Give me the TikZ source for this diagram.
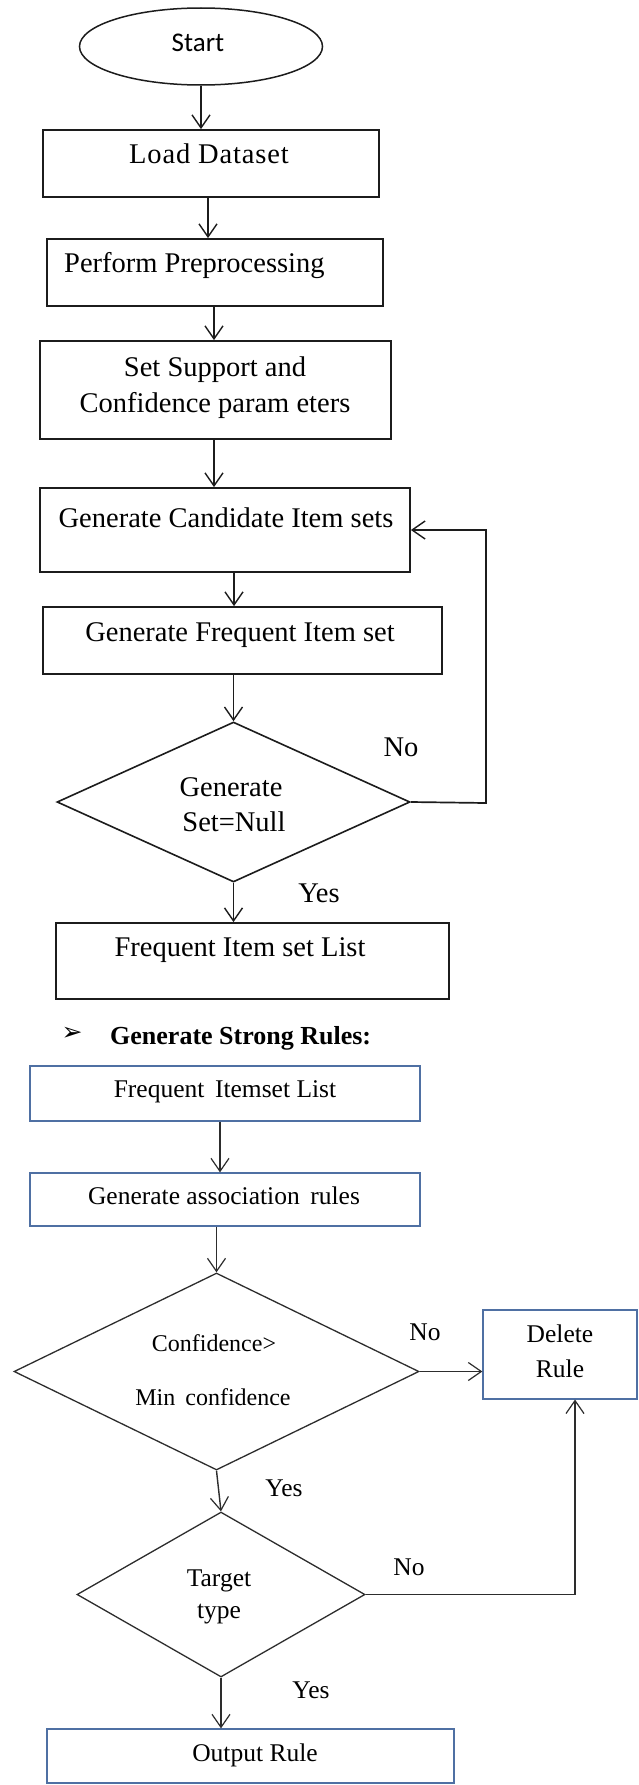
\documentclass[tikz,border=0pt]{standalone}
\usepackage{fontspec}
\setmainfont{Liberation Serif}
\newfontfamily\startfont{Carlito}
\newfontfamily\symfont{DejaVu Sans}
\newfontfamily\widefont[LetterSpace=3]{Liberation Serif}
\usetikzlibrary{shapes.geometric,arrows.meta}

\definecolor{inktop}{RGB}{28,28,28}
\definecolor{inkbot}{RGB}{45,45,45}
\definecolor{boxblue}{RGB}{79,112,163}

\tikzset{
  ttxt/.style={font=\fontsize{28.5}{34}\selectfont, inner sep=0pt, text height=19pt, text depth=0pt},
  btxt/.style={font=\fontsize{25.5}{30}\selectfont, inner sep=0pt, text height=17pt, text depth=0pt},
  stxt/.style={font=\fontsize{24}{28}\selectfont, inner sep=0pt, text height=15.5pt, text depth=0pt},
  topbox/.style={draw=inktop, line width=1.8pt, rectangle, inner sep=0pt},
  blubox/.style={draw=boxblue, line width=1.3pt, rectangle, inner sep=0pt},
  topdec/.style={draw=inktop, line width=1.6pt, diamond, inner sep=0pt},
  botdec/.style={draw=inkbot, line width=1.3pt, diamond, inner sep=0pt},
  toparr/.style={draw=inktop, line width=1.7pt, -{Straight Barb[length=13pt,width=18pt,line width=1.4pt]}},
  botarr/.style={draw=inkbot, line width=1.4pt, -{Straight Barb[length=13pt,width=18pt,line width=1.2pt]}}
}

\begin{document}
\begin{tikzpicture}[x=1pt,y=-1pt]
\useasboundingbox (0,0) rectangle (638,1785);
\fill[white] (0,0) rectangle (638,1785);

% ---------- Apriori: frequent itemset generation ----------
\node[draw=inktop, line width=1.5pt, ellipse, inner sep=0pt,
      minimum width=243pt, minimum height=77pt] (start) at (201,46.5) {};
\node[inner sep=0pt, text height=18pt, text depth=0pt,
      font=\startfont\fontsize{27}{30}\selectfont] (starttxt) at (198,43) {Start};

\node[topbox, minimum width=336pt, minimum height=67pt] (load) at (211,163.5) {};
\node[ttxt, font=\widefont\fontsize{28.5}{34}\selectfont] (loadtxt) at (209,154) {Load Dataset};

\node[topbox, minimum width=336pt, minimum height=67pt] (pre) at (215,272.5) {};
\node[ttxt, anchor=west] (pretxt) at (64,263) {Perform Preprocessing};

\node[topbox, minimum width=351pt, minimum height=98pt] (sup) at (215.5,390) {};
\node[ttxt] (suptxta) at (215,367) {Set Support and};
\node[ttxt] (suptxtb) at (215,403) {Confidence param eters};

\node[topbox, minimum width=370pt, minimum height=84pt] (cand) at (225,530) {};
\node[ttxt] (candtxt) at (226,518) {Generate Candidate Item sets};

\node[topbox, minimum width=399pt, minimum height=67pt] (freq) at (242.5,640.5) {};
\node[ttxt] (freqtxt) at (240,632) {Generate Frequent Item set};

\node[topdec, minimum width=353pt, minimum height=160pt] (null) at (233.5,802) {};
\node[ttxt] (nulltxta) at (231,787) {Generate};
\node[ttxt] (nulltxtb) at (234,822) {Set=Null};
\node[ttxt] (nullno) at (401,747) {No};
\node[ttxt] (nullyes) at (319,893) {Yes};

\node[topbox, minimum width=393pt, minimum height=76pt] (list) at (252.5,961) {};
\node[ttxt] (listtxt) at (240,947) {Frequent Item set List};

\coordinate (loopc) at (486,803);

\draw[toparr] (start.south) -- (start.south |- load.north);
\draw[toparr] ([xshift=-3pt]load.south) -- ([xshift=-3pt]load.south |- pre.north);
\draw[toparr] ([xshift=-1pt]pre.south) -- ([xshift=-1pt]pre.south |- sup.north);
\draw[toparr] ([xshift=-1.5pt]sup.south) -- ([xshift=-1.5pt]sup.south |- cand.north);
\draw[toparr] ([xshift=9pt]cand.south) -- ([xshift=9pt]cand.south |- freq.north);
\draw[toparr] (null.north |- freq.south) -- (null.north);
\draw[toparr] (null.south) -- (null.south |- list.north);
\draw[toparr] (null.east) -- (loopc) |- (cand.east);

% ---------- Strong rule generation ----------
\node[inner sep=0pt, font=\symfont\fontsize{25}{28}\selectfont] (bullet) at (72,1034) {➢};
\node[inner sep=0pt, anchor=west, text height=18pt, text depth=0pt,
      font=\bfseries\fontsize{26}{30}\selectfont] (heading) at (110,1035) {Generate Strong Rules:};

\node[blubox, minimum width=390pt, minimum height=55pt] (fil) at (225,1093.5) {};
\node[btxt] (filtxt) at (225,1089) {Frequent \,Itemset List};

\node[blubox, minimum width=390pt, minimum height=53pt] (assoc) at (225,1199.5) {};
\node[btxt] (assoctxt) at (224,1196) {Generate association \,rules};

\node[botdec, minimum width=405pt, minimum height=197pt] (conf) at (216.5,1371.5) {};
\node[stxt] (conftxta) at (214,1344) {Confidence>};
\node[stxt] (conftxtb) at (213,1398) {Min \,confidence};
\node[btxt] (confno) at (425,1332) {No};
\node[btxt] (confyes) at (284,1488) {Yes};

\node[blubox, minimum width=154pt, minimum height=89pt] (del) at (560,1354.5) {};
\node[btxt] (deltxta) at (560,1334) {Delete};
\node[btxt] (deltxtb) at (560,1369) {Rule};

\node[botdec, minimum width=288pt, minimum height=165pt] (target) at (221,1594.5) {};
\node[btxt] (targettxta) at (219,1578) {Target};
\node[btxt] (targettxtb) at (219,1610) {type};
\node[btxt] (targetno) at (409,1567) {No};
\node[btxt] (targetyes) at (311,1690) {Yes};

\node[blubox, minimum width=407pt, minimum height=54pt] (out) at (250.5,1756) {};
\node[btxt] (outtxt) at (255,1753) {Output Rule};

\coordinate (delin) at (575,1399.5);

\draw[botarr] ([xshift=-5pt]fil.south) -- ([xshift=-5pt]fil.south |- assoc.north);
\draw[botarr] (conf.north |- assoc.south) -- (conf.north);
\draw[botarr] (conf.east) -- (conf.east -| del.west);
\draw[botarr] (conf.south) -- (target.north);
\draw[botarr] (target.south) -- (target.south |- out.north);
\draw[botarr] (target.east) -| (delin);
\end{tikzpicture}
\end{document}
